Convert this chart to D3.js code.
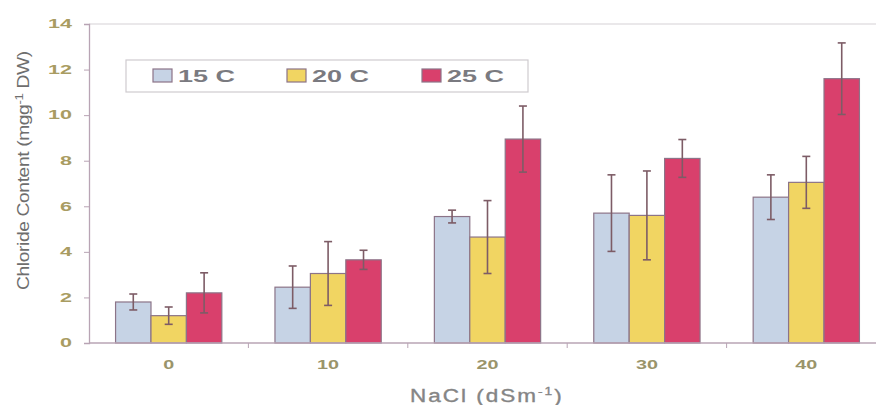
<!DOCTYPE html>
<html><head><meta charset="utf-8">
<script src="https://cdn.jsdelivr.net/npm/d3@7"></script>
<style>body{margin:0;background:#fff}svg{display:block}</style>
</head><body>
<svg id="c" width="876" height="405"></svg>
<script>
const categories = ["0", "10", "20", "30", "40"];
const seriesNames = ["15 C", "20 C", "25 C"];
const values15 = [1.8, 2.45, 5.55, 5.7, 6.4];
const values20 = [1.2, 3.05, 4.65, 5.6, 7.05];
const values25 = [2.2, 3.65, 8.95, 8.1, 11.6];
const err15 = [0.35, 0.93, 0.28, 1.68, 0.98];
const err20 = [0.38, 1.4, 1.6, 1.95, 1.14];
const err25 = [0.88, 0.42, 1.45, 0.83, 1.57];
const yTicks = [0, 2, 4, 6, 8, 10, 12, 14];
const colors = ["#c6d3e5", "#f1d562", "#d9406c"];

const series = [values15, values20, values25];
const errs = [err15, err20, err25];
const FONT = "Liberation Sans, Arial, sans-serif";

const svg = d3.select("#c");
const x0 = d3.scaleBand().domain(categories).range([89, 886]).paddingInner(0).paddingOuter(0);
const x1 = d3.scaleBand().domain(seriesNames).range([0, x0.bandwidth()]).paddingOuter(0.75).paddingInner(0);
const y = d3.scaleLinear().domain([0, 14]).range([343, 24]);

// top border line
svg.append("line").attr("x1", 89).attr("x2", 876).attr("y1", y(14)).attr("y2", y(14))
  .attr("stroke", "#d6d2d6").attr("stroke-width", 1.2);

// y axis
const ya = svg.append("g").attr("transform", "translate(89,0)")
  .call(d3.axisLeft(y).tickValues(yTicks).tickSize(5).tickPadding(12));
ya.select(".domain").attr("stroke", "#b8a4b4").attr("stroke-width", 1.3);
ya.selectAll(".tick line").attr("stroke", "#b8a4b4");
ya.selectAll("text").attr("fill", "#a99c62").attr("font-family", FONT)
  .attr("font-weight", "bold").attr("font-size", 12)
  .attr("textLength", d => String(d).length * 12).attr("lengthAdjust", "spacingAndGlyphs");

// bars
const groups = svg.append("g").selectAll("g").data(categories).join("g")
  .attr("transform", d => `translate(${x0(d)},0)`);
seriesNames.forEach((s, si) => {
  groups.append("rect")
    .attr("x", x1(s)).attr("width", x1.bandwidth())
    .attr("y", (d, i) => y(series[si][i]))
    .attr("height", (d, i) => y(0) - y(series[si][i]))
    .attr("fill", colors[si]).attr("stroke", "#8c7488").attr("stroke-width", 1.2);
});
// error bars
seriesNames.forEach((s, si) => {
  const cx = x1(s) + x1.bandwidth() / 2;
  groups.append("line").attr("x1", cx).attr("x2", cx)
    .attr("y1", (d, i) => y(series[si][i] - errs[si][i]))
    .attr("y2", (d, i) => y(series[si][i] + errs[si][i]))
    .attr("stroke", "#7d5c66").attr("stroke-width", 1.6);
  [-1, 1].forEach(sign => {
    groups.append("line").attr("x1", cx - 4).attr("x2", cx + 4)
      .attr("y1", (d, i) => y(series[si][i] + sign * errs[si][i]))
      .attr("y2", (d, i) => y(series[si][i] + sign * errs[si][i]))
      .attr("stroke", "#7d5c66").attr("stroke-width", 1.6);
  });
});

// x axis
const xa = svg.append("g").attr("transform", `translate(0,${y(0)})`)
  .call(d3.axisBottom(x0).tickSize(0).tickPadding(17));
xa.select(".domain").remove();
svg.append("line").attr("x1", 89).attr("x2", 876).attr("y1", y(0)).attr("y2", y(0))
  .attr("stroke", "#b8a4b4").attr("stroke-width", 1.3);
svg.append("g").selectAll("line").data(categories.slice(1)).join("line")
  .attr("x1", d => x0(d)).attr("x2", d => x0(d)).attr("y1", y(0)).attr("y2", y(0) + 5)
  .attr("stroke", "#b8a4b4");
xa.selectAll("text").attr("fill", "#9a946a").attr("font-family", FONT)
  .attr("font-weight", "bold").attr("font-size", 12)
  .attr("textLength", d => String(d).length * 11).attr("lengthAdjust", "spacingAndGlyphs");

// axis titles
svg.append("text").attr("transform", "translate(410,402) scale(1.25,1)")
  .attr("font-family", FONT).attr("font-size", 18)
  .attr("fill", "#858585").attr("letter-spacing", 1.6)
  .attr("stroke", "#858585").attr("stroke-width", 0.35)
  .html('NaCl (dSm<tspan dy="-7" font-size="11">-1</tspan><tspan dy="7">)</tspan>');
svg.append("text").attr("transform", "translate(29,290) rotate(-90) scale(1.2,1)")
  .attr("font-family", FONT).attr("font-size", 16)
  .attr("fill", "#6e6e6e").attr("letter-spacing", -0.3)
  .html('Chloride Content (mgg<tspan dy="-6" font-size="11">-1</tspan><tspan dy="6"> DW)</tspan>');

// legend
svg.append("rect").attr("x", 126).attr("y", 60).attr("width", 402).attr("height", 32)
  .attr("fill", "#fff").attr("stroke", "#cfcbcf").attr("stroke-width", 1.2);
const legX = [153, 287, 422];
const lg = svg.append("g").selectAll("g").data(seriesNames).join("g")
  .attr("transform", (d, i) => `translate(${legX[i]},69)`);
lg.append("rect").attr("width", 19).attr("height", 13)
  .attr("fill", (d, i) => colors[i]).attr("stroke", "#8c7488").attr("stroke-width", 1.2);
lg.append("text").attr("x", 25).attr("y", 13).text(d => d)
  .attr("font-family", FONT).attr("font-weight", "bold")
  .attr("font-size", 17).attr("fill", "#7a7a80")
  .attr("textLength", 57).attr("lengthAdjust", "spacingAndGlyphs");
</script>
</body></html>
